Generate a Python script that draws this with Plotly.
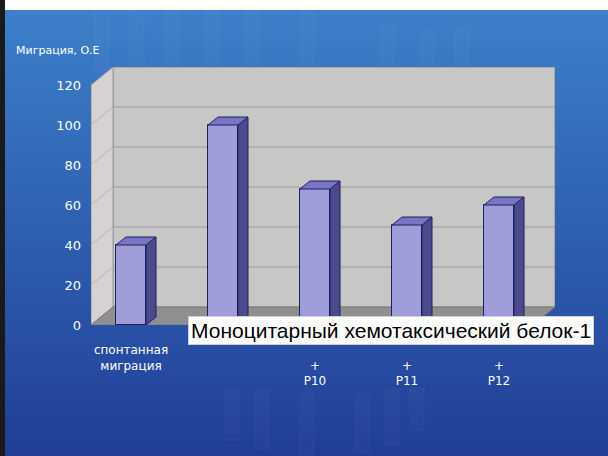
import plotly.graph_objects as go

# --- data -------------------------------------------------------------
categories = ["спонтанная<br>миграция", "\u00a0", "\u00a0<br>+<br>P10",
              "\u00a0<br>+<br>P11", "\u00a0<br>+<br>P12"]
values = [40, 100, 68, 50, 60]
y_ticks = [0, 20, 40, 60, 80, 100, 120]
y_title = "Миграция, О.Е"
box_text = "Моноцитарный хемотаксический белок-1"

# --- geometry (pixels) ------------------------------------------------
W, H = 608, 456
PL, PR, PT, PB = 91, 555, 67, 325          # plot area
PX_PER_X = 92.0                             # px per category step
X0_PX = 131.0                               # pixel of first category
PX_PER_Y = 2.0                              # px per value unit
WALL_DX_PX, WALL_DY_PX = 22, 18             # depth of the 3-D box
BAR_W_PX, BAR_DX_PX, BAR_DY_PX = 30, 10, 8  # bar width / depth

xr0 = (PL - X0_PX) / PX_PER_X
xr1 = (PR - X0_PX) / PX_PER_X
yr1 = (PB - PT) / PX_PER_Y
DX = WALL_DX_PX / PX_PER_X
DY = WALL_DY_PX / PX_PER_Y
BW = BAR_W_PX / PX_PER_X
BDX = BAR_DX_PX / PX_PER_X
BDY = BAR_DY_PX / PX_PER_Y
y_top = max(y_ticks)


def px_x(p):
    return (p - PL) / (PR - PL)


def px_y(p):
    return (PB - p) / (PB - PT)


shapes = []

# blue gradient background
n_strips = 90
c_top = (60, 128, 201)
c_bot = (33, 62, 151)
for i in range(n_strips):
    t = i / (n_strips - 1)
    c = tuple(int(round(a + (b - a) * t)) for a, b in zip(c_top, c_bot))
    y0 = 10 + (H - 10) * i / n_strips
    y1 = 10 + (H - 10) * (i + 1) / n_strips + 1
    shapes.append(dict(type="rect", xref="paper", yref="paper", layer="below",
                       x0=px_x(0), x1=px_x(W), y0=px_y(y1), y1=px_y(y0),
                       line=dict(width=0), fillcolor="rgb(%d,%d,%d)" % c))

# faint decorative stripes
for xs, ys, ye in [(95, 10, 70), (130, 10, 75), (165, 10, 72), (205, 10, 70),
                   (245, 10, 68), (300, 10, 66), (380, 25, 66), (420, 30, 66),
                   (455, 28, 66), (225, 390, 440), (255, 390, 450), (300, 392, 456),
                   (355, 395, 452), (385, 390, 445), (410, 388, 430)]:
    shapes.append(dict(type="rect", xref="paper", yref="paper", layer="below",
                       x0=px_x(xs), x1=px_x(xs + 14), y0=px_y(ye), y1=px_y(ys),
                       line=dict(width=1, color="rgba(255,255,255,0.035)"),
                       fillcolor="rgba(255,255,255,0.018)"))

# white band on top, dark rule on the left
shapes.append(dict(type="rect", xref="paper", yref="paper", layer="below",
                   x0=px_x(0), x1=px_x(W), y0=px_y(10), y1=px_y(0),
                   line=dict(width=0), fillcolor="white"))
shapes.append(dict(type="rect", xref="paper", yref="paper", layer="below",
                   x0=px_x(0), x1=px_x(5), y0=px_y(H), y1=px_y(0),
                   line=dict(width=0), fillcolor="#1a1a1a"))

# 3-D box: back wall, left wall, floor
shapes.append(dict(type="rect", xref="x", yref="y", layer="below",
                   x0=xr0 + DX, x1=xr1, y0=DY, y1=y_top + DY,
                   line=dict(width=1, color="#8a8a8a"), fillcolor="#c7c7c7"))
shapes.append(dict(type="path", xref="x", yref="y", layer="below",
                   path="M %f,0 L %f,%f L %f,%f L %f,%f Z" % (
                       xr0, xr0, y_top, xr0 + DX, y_top + DY, xr0 + DX, DY),
                   line=dict(width=1, color="#9a9a9a"), fillcolor="#d6d2d2"))
x_front_right = xr1 - DX
shapes.append(dict(type="path", xref="x", yref="y", layer="below",
                   path="M %f,0 L %f,0 L %f,%f L %f,%f Z" % (
                       xr0, x_front_right, xr1, DY, xr0 + DX, DY),
                   line=dict(width=1, color="#7a7a7a"), fillcolor="#8f8f8f"))

# grid lines on the walls
for t in y_ticks[1:-1]:
    shapes.append(dict(type="line", xref="x", yref="y", layer="below",
                       x0=xr0 + DX, x1=xr1, y0=t + DY, y1=t + DY,
                       line=dict(width=1, color="#9c9c9c")))
    shapes.append(dict(type="line", xref="x", yref="y", layer="below",
                       x0=xr0, x1=xr0 + DX, y0=t, y1=t + DY,
                       line=dict(width=1, color="#b4b0b0")))

fig = go.Figure()

xs = list(range(len(values)))

# bar front faces
fig.add_trace(go.Bar(x=xs, y=values, width=BW,
                     marker=dict(color="#9e9cd9",
                                 line=dict(color="#1f1f5c", width=1)),
                     hoverinfo="skip"))

# bar side faces and top faces
side_x, side_y, top_x, top_y = [], [], [], []
for xc, v in zip(xs, values):
    r = xc + BW / 2
    l = xc - BW / 2
    side_x += [r, r, r + BDX, r + BDX, r, None]
    side_y += [0, v, v + BDY, BDY, 0, None]
    top_x += [l, r, r + BDX, l + BDX, l, None]
    top_y += [v, v, v + BDY, v + BDY, v, None]

fig.add_trace(go.Scatter(x=side_x, y=side_y, mode="lines", fill="toself",
                         fillcolor="#4b4a8d",
                         line=dict(color="#1f1f5c", width=1),
                         hoverinfo="skip"))
fig.add_trace(go.Scatter(x=top_x, y=top_y, mode="lines", fill="toself",
                         fillcolor="#7876c4",
                         line=dict(color="#1f1f5c", width=1),
                         hoverinfo="skip"))

annotations = [
    dict(text=y_title, xref="paper", yref="paper", x=px_x(14), y=px_y(51),
         xanchor="left", yanchor="middle", showarrow=False,
         font=dict(family="DejaVu Sans", size=11, color="white")),
    dict(text=box_text, xref="paper", yref="paper", x=px_x(188), y=px_y(316),
         xanchor="left", yanchor="top", showarrow=False,
         bgcolor="white", bordercolor="#d0d0d0", borderwidth=1, borderpad=2,
         font=dict(family="Liberation Sans", size=21, color="black")),
]

fig.update_layout(
    width=W, height=H,
    margin=dict(l=PL, r=W - PR, t=PT, b=H - PB, pad=0),
    paper_bgcolor="#2f62b3", plot_bgcolor="rgba(0,0,0,0)",
    showlegend=False, bargap=0,
    shapes=shapes, annotations=annotations,
    xaxis=dict(range=[xr0, xr1], tickmode="array", tickvals=xs,
               ticktext=categories, showgrid=False, zeroline=False,
               showline=False, ticks="", ticklabelstandoff=16,
               tickfont=dict(family="DejaVu Sans", size=12, color="white")),
    yaxis=dict(range=[0, yr1], tickmode="array", tickvals=y_ticks,
               ticktext=[str(v) for v in y_ticks], showgrid=False,
               zeroline=False, showline=False, ticks="",
               ticklabelstandoff=9,
               tickfont=dict(family="DejaVu Sans", size=13, color="white")),
)

fig.write_html("out.html")
